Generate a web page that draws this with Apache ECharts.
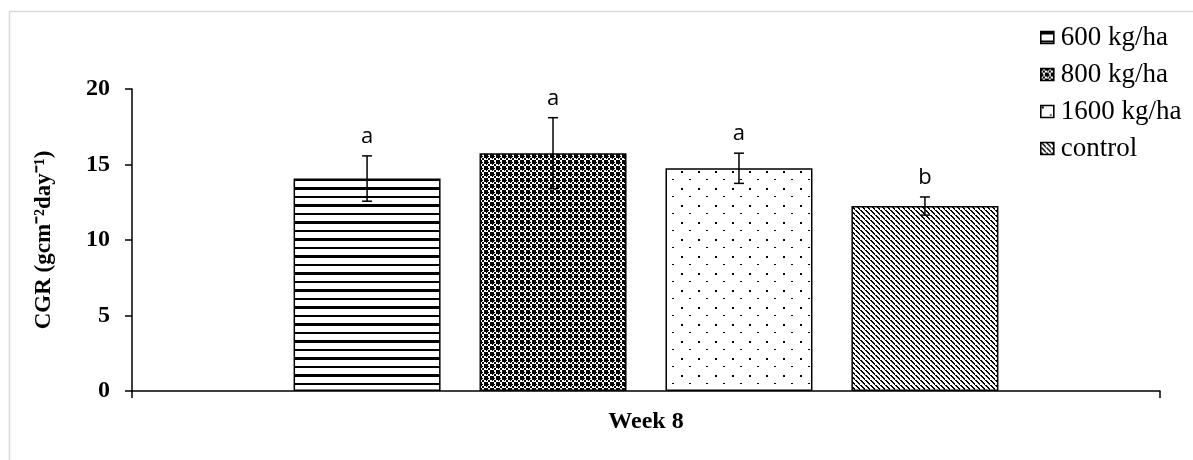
<!DOCTYPE html>
<html>
<head>
<meta charset="utf-8">
<script src="https://cdn.jsdelivr.net/npm/echarts@6/dist/echarts.min.js"></script>
<style>
html,body{margin:0;padding:0;background:#fff;}
#chart{width:1193px;height:460px;}
</style>
</head>
<body>
<div id="chart"></div>
<script>
// ---- data ----
const categories = ['Week 8'];
const seriesNames = ['600 kg/ha', '800 kg/ha', '1600 kg/ha', 'control'];
const means = [14.07, 15.75, 14.75, 12.25];
const errors = [1.5, 2.35, 1.0, 0.6];
const letters = ['a', 'a', 'a', 'b'];
const yTicks = [0, 5, 10, 15, 20];

// ---- patterns ----
function tile(w, h, draw) {
  const c = document.createElement('canvas');
  c.width = w; c.height = h;
  const ctx = c.getContext('2d');
  ctx.fillStyle = '#fff'; ctx.fillRect(0, 0, w, h);
  ctx.fillStyle = '#000';
  draw(ctx);
  return { image: c, repeat: 'repeat' };
}
const patterns = [
  tile(8, 17, ctx => { ctx.fillRect(0, 0, 8, 3); ctx.fillRect(0, 9, 8, 2); }),
  tile(6, 6, ctx => {
    ctx.fillRect(0, 0, 2, 2); ctx.fillRect(2, 2, 2, 2); ctx.fillRect(4, 4, 2, 2);
    ctx.fillRect(4, 0, 2, 2); ctx.fillRect(0, 4, 2, 2); ctx.fillRect(2, 0, 1, 1); ctx.fillRect(0, 2, 1, 1);
  }),
  tile(17, 17, ctx => { ctx.fillRect(1, 1, 2, 2); ctx.fillRect(9, 9, 2, 1); }),
  tile(5, 5, ctx => { for (let i = 0; i < 5; i++) ctx.fillRect(i, i, 2, 1); })
];

const BAR_W = 147;
const BAR_GAP = '26.5%';
const serif = 'Liberation Serif';

const barSeries = seriesNames.map((n, i) => ({
  name: n,
  type: 'bar',
  data: [means[i]],
  barWidth: BAR_W,
  barGap: BAR_GAP,
  itemStyle: { color: patterns[i], borderColor: '#000', borderWidth: 1.5 },
  z: 2
}));

const errData = means.map((m, i) => [0, m, errors[i], i]);

const errSeries = {
  type: 'custom',
  name: 'err',
  z: 5,
  silent: true,
  data: errData,
  renderItem: function (params, api) {
    const idx = api.value(3);
    const layout = api.barLayout({ barWidth: BAR_W, barGap: BAR_GAP, count: seriesNames.length });
    const m = api.value(1), e = api.value(2);
    const base = api.coord([api.value(0), m]);
    const cx = base[0] + layout[idx].offsetCenter;
    const top = api.coord([api.value(0), m + e])[1];
    const bot = api.coord([api.value(0), m - e])[1];
    const cap = 5;
    const st = { stroke: '#000', lineWidth: 1.5 };
    return {
      type: 'group',
      children: [
        { type: 'line', shape: { x1: cx, y1: top, x2: cx, y2: bot }, style: st },
        { type: 'line', shape: { x1: cx - cap, y1: top, x2: cx + cap, y2: top }, style: st },
        { type: 'line', shape: { x1: cx - cap, y1: bot, x2: cx + cap, y2: bot }, style: st },
        { type: 'text', x: cx, y: top - 8,
          style: { text: letters[idx], fill: '#000', font: '22px "Open Sans"', align: 'center', verticalAlign: 'bottom' } }
      ]
    };
  }
};

const chart = echarts.init(document.getElementById('chart'));
chart.setOption({
  animation: false,
  backgroundColor: '#fff',
  graphic: [{
    type: 'rect', silent: true,
    shape: { x: 9.5, y: 11.5, width: 1250, height: 500 },
    style: { fill: 'none', stroke: '#d9d9d9', lineWidth: 1.5 }
  }],
  grid: { left: 132, right: 33, top: 89, bottom: 69 },
  legend: {
    data: seriesNames,
    orient: 'vertical',
    left: 1035,
    top: 19,
    itemWidth: 13,
    itemHeight: 12,
    itemGap: 10,
    icon: 'rect',
    itemStyle: { borderColor: '#000', borderWidth: 1.6 },
    textStyle: { fontFamily: serif, fontSize: 27, color: '#000', padding: [0, 0, 0, 2] }
  },
  xAxis: {
    type: 'category',
    data: categories,
    axisLine: { lineStyle: { color: '#000', width: 1.5 } },
    axisTick: { show: true, length: 7, alignWithLabel: false, lineStyle: { color: '#000', width: 1.5 } },
    axisLabel: { fontFamily: serif, fontSize: 24, fontWeight: 'bold', color: '#000', margin: 19 }
  },
  yAxis: {
    type: 'value',
    min: yTicks[0],
    max: yTicks[yTicks.length - 1],
    interval: yTicks[1] - yTicks[0],
    name: 'CGR (gcm\u207B\u00B2day\u207B\u00B9)',
    nameLocation: 'middle',
    nameGap: 76,
    nameTextStyle: { fontFamily: serif, fontSize: 23, fontWeight: 'bold', color: '#000' },
    axisLine: { show: true, lineStyle: { color: '#000', width: 1.5 } },
    axisTick: { show: true, length: 7, lineStyle: { color: '#000', width: 1.5 } },
    splitLine: { show: false },
    axisLabel: { fontFamily: serif, fontSize: 24, fontWeight: 'bold', color: '#000', margin: 22 }
  },
  series: barSeries.concat([errSeries])
});
</script>
</body>
</html>
